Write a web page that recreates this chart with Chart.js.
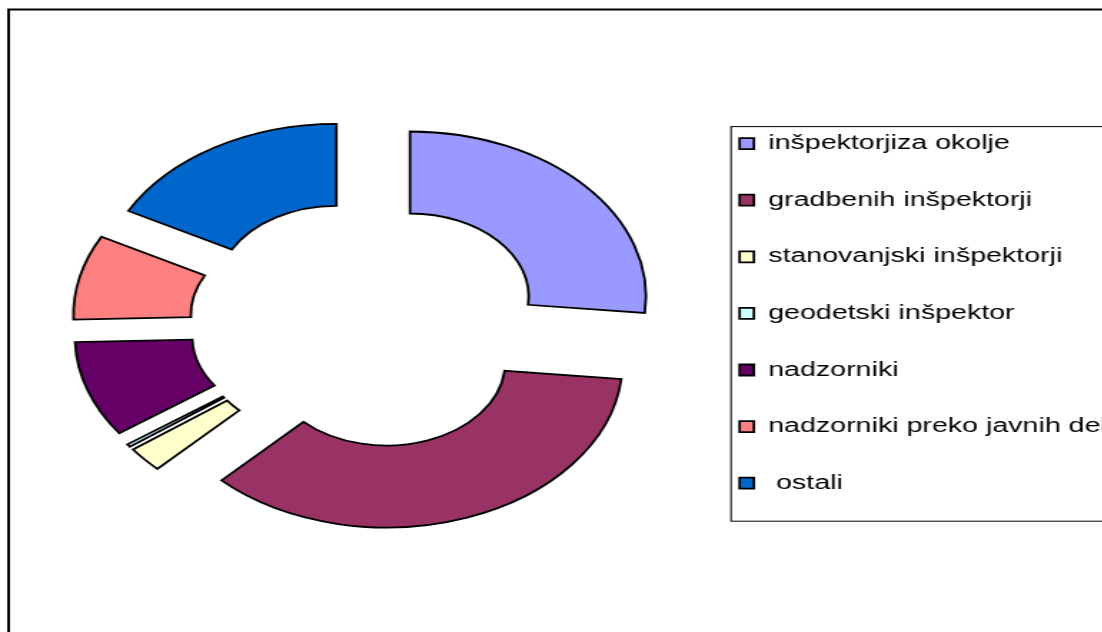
<!DOCTYPE html>
<html>
<head>
<meta charset="utf-8">
<script src="https://cdn.jsdelivr.net/npm/chart.js@4/dist/chart.umd.min.js"></script>
<style>
    html, body { margin: 0; padding: 0; background: #fff; overflow: hidden; }
    #wrap { width: 1102px; height: 632px; overflow: hidden; }
</style>
</head>
<body>
<!-- the original picture is stretched sideways, so the canvas is too -->
<div id="wrap"><canvas id="chart" width="800" height="632" style="width:1144px;height:632px"></canvas></div>
<script>
const labels = [
    "inšpektorjiza okolje",
    "gradbenih inšpektorji",
    "stanovanjski inšpektorji",
    "geodetski inšpektor",
    "nadzorniki",
    "nadzorniki preko javnih del",
    " ostali"
];
const values = [96, 129, 9, 1, 34, 30, 62];
const colors = ["#9999FF", "#993366", "#FFFFCC", "#CCFFFF", "#660066", "#FF8080", "#0066CC"];

const explode = 41;

// every slice pulled out from the centre by the same distance
const explodePlugin = {
    id: 'explode',
    afterDatasetsUpdate(chart) {
        chart.getDatasetMeta(0).data.forEach(arc => {
            const mid = (arc.startAngle + arc.endAngle) / 2;
            arc.x += Math.cos(mid) * explode;
            arc.y += Math.sin(mid) * explode;
        });
    }
};

// outer frame and the box round the legend
const framePlugin = {
    id: 'frames',
    afterDraw(chart) {
        const ctx = chart.ctx;
        ctx.save();
        ctx.strokeStyle = '#000';
        ctx.lineWidth = 2;
        ctx.strokeRect(6, 9.5, chart.width + 20, chart.height + 20);

        const hb = chart.legend.legendHitBoxes;
        if (hb && hb.length) {
            const first = hb[0], last = hb[hb.length - 1];
            ctx.lineWidth = 1;
            const left = first.left - 6, top = first.top - 7;
            ctx.strokeRect(left, top, chart.width, last.top + 48 - top);
        }
        ctx.restore();
    }
};

Chart.defaults.font.family = "'Liberation Sans', Arial, sans-serif";
Chart.defaults.color = '#000';

new Chart(document.getElementById('chart'), {
    type: 'doughnut',
    data: {
        labels: labels,
        datasets: [{
            data: values,
            backgroundColor: colors,
            borderColor: '#000',
            borderWidth: 1.8,
            borderJoinStyle: 'miter'
        }]
    },
    options: {
        responsive: false,
        animation: false,
        events: [],
        radius: 165,
        cutout: '50.3%',
        layout: {
            padding: { left: 32, right: 16, top: 97, bottom: 81 }
        },
        plugins: {
            tooltip: { enabled: false },
            legend: {
                position: 'right',
                align: 'start',
                labels: {
                    boxWidth: 10,
                    boxHeight: 11,
                    padding: 36.6,
                    font: { size: 20 }
                }
            }
        }
    },
    plugins: [explodePlugin, framePlugin]
});
</script>
</body>
</html>
